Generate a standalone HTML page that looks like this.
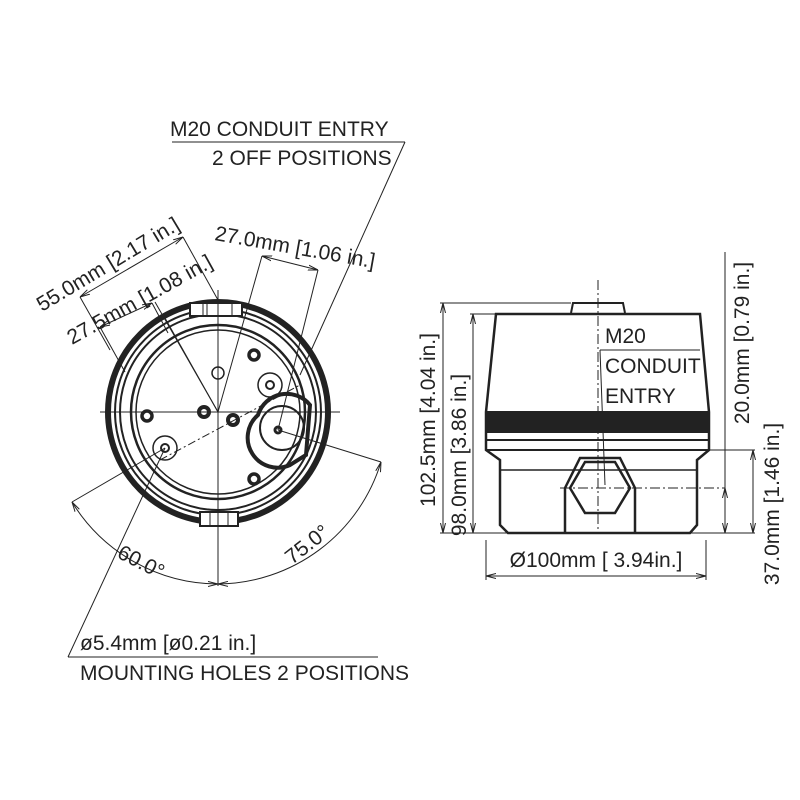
<!DOCTYPE html>
<html><head><style>body{margin:0;background:#fff}svg{display:block}text{font-family:"Liberation Sans",sans-serif;fill:#222}</style></head><body>
<svg width="800" height="800" viewBox="0 0 800 800" xmlns="http://www.w3.org/2000/svg">
<defs><marker id="a" markerWidth="10" markerHeight="6" refX="10" refY="3" orient="auto-start-reverse" markerUnits="userSpaceOnUse"><path d="M0,0.5 L10,3 L0,5.5" fill="none" stroke="#222" stroke-width="1"/></marker></defs>
<g stroke="#222" fill="none" stroke-width="1">
<line x1="172" y1="142" x2="405" y2="142"/>
<line x1="405" y1="142" x2="300" y2="375"/>
<circle cx="218" cy="412" r="110" stroke-width="6"/>
<circle cx="218" cy="412" r="103" stroke-width="2"/>
<circle cx="218" cy="412" r="98" stroke-width="2"/>
<circle cx="218" cy="412" r="87" stroke-width="2.5"/>
<circle cx="218" cy="412" r="82" stroke-width="1.5"/>
<rect x="190" y="303" width="52" height="13" fill="#fff" stroke-width="2"/>
<line x1="203" y1="303" x2="203" y2="316"/><line x1="207" y1="303" x2="207" y2="316"/><line x1="232" y1="303" x2="232" y2="316"/>
<rect x="200" y="512" width="38" height="14" fill="#fff" stroke-width="2"/>
<line x1="210" y1="512" x2="210" y2="526"/><line x1="218" y1="512" x2="218" y2="526"/><line x1="228" y1="512" x2="228" y2="526"/>
<circle cx="218" cy="373" r="6" stroke-width="1.5"/>
<circle cx="204" cy="412" r="5" stroke-width="4"/>
<circle cx="233" cy="420" r="5" stroke-width="4"/>
<circle cx="147" cy="416" r="5" stroke-width="3.5"/>
<circle cx="254" cy="355" r="5" stroke-width="3.5"/>
<circle cx="254" cy="479" r="5" stroke-width="3.5"/>
<circle cx="270" cy="385" r="12" stroke-width="1.5"/><circle cx="270" cy="385" r="4" stroke-width="2"/>
<circle cx="165" cy="448" r="12" stroke-width="1.5"/><circle cx="165" cy="448" r="4" stroke-width="2"/>
<path d="M258,415 A30,30 0 0 1 310,405 L306,455 L290,465 A30,30 0 0 1 258,415Z" stroke-width="4"/>
<circle cx="282" cy="428" r="22" stroke-width="2"/>
<circle cx="278" cy="430" r="3" stroke-width="3"/>
<line x1="100" y1="412" x2="340" y2="412"/>
<line x1="218" y1="290" x2="218" y2="586"/>
<line x1="160" y1="460" x2="300" y2="385" stroke-dasharray="8,3,2,3"/>
<line x1="218" y1="412" x2="155" y2="302"/>
<line x1="218" y1="412" x2="165" y2="318"/>
<line x1="218" y1="412" x2="262" y2="256"/>
<line x1="278" y1="430" x2="318" y2="270"/>
<line x1="183" y1="237" x2="218" y2="300"/>
<line x1="80" y1="297" x2="110" y2="350"/>
<line x1="100" y1="327" x2="125" y2="372"/>
<line x1="152" y1="303" x2="168" y2="333"/>
<line x1="80" y1="297" x2="183" y2="237" marker-start="url(#a)" marker-end="url(#a)"/>
<line x1="100" y1="327" x2="152" y2="303" marker-start="url(#a)" marker-end="url(#a)"/>
<line x1="262" y1="256" x2="318" y2="270" marker-start="url(#a)" marker-end="url(#a)"/>
<line x1="165" y1="448" x2="72" y2="502"/>
<line x1="278" y1="430" x2="381" y2="462"/>
<path d="M72,502 A172,172 0 0 0 218,584" marker-start="url(#a)" marker-end="url(#a)"/>
<path d="M381,462 A172,172 0 0 1 218,584" marker-start="url(#a)" marker-end="url(#a)"/>
<line x1="68" y1="657" x2="378" y2="657"/>
<line x1="68" y1="657" x2="165" y2="448"/>
<path d="M571,313 L573,303 L623,303 L625,313" stroke-width="2"/>
<path d="M496,314 L700,314 L709,412 L709,450 L697,460 L697,525 L690,533 L508,533 L500,525 L500,460 L486,450 L486,412 Z" stroke-width="2.5"/>
<rect x="486" y="411" width="224" height="22" fill="#222" stroke="none"/>
<line x1="486" y1="440" x2="709" y2="440" stroke-width="2"/>
<line x1="486" y1="450" x2="709" y2="450" stroke-width="2"/>
<line x1="500" y1="470" x2="697" y2="470" stroke-width="1.5"/>
<path d="M565,532 L565,488 L580,458 L620,458 L635,488 L635,532" stroke-width="2.5"/>
<path d="M570,488 L585,462 L615,462 L630,488 L615,513 L585,513 Z" stroke-width="2.5"/>
<line x1="598" y1="280" x2="598" y2="530" stroke-dasharray="10,3,2,3"/>
<line x1="560" y1="488" x2="725" y2="488" stroke-dasharray="10,3,2,3"/>
<line x1="600" y1="350" x2="605" y2="485"/>
<line x1="600" y1="350" x2="700" y2="350"/>
<line x1="440" y1="303" x2="571" y2="303"/>
<line x1="470" y1="314" x2="496" y2="314"/>
<line x1="440" y1="533" x2="755" y2="533"/>
<line x1="443" y1="303" x2="443" y2="533" marker-start="url(#a)" marker-end="url(#a)"/>
<line x1="473" y1="314" x2="473" y2="533" marker-start="url(#a)" marker-end="url(#a)"/>
<line x1="486" y1="540" x2="486" y2="580"/><line x1="706" y1="540" x2="706" y2="580"/>
<line x1="486" y1="576" x2="706" y2="576" marker-start="url(#a)" marker-end="url(#a)"/>
<line x1="725" y1="252" x2="725" y2="533"/>
<line x1="709" y1="450" x2="755" y2="450"/>
<line x1="725" y1="488" x2="725" y2="533" marker-start="url(#a)" marker-end="url(#a)"/>
<line x1="753" y1="450" x2="753" y2="533" marker-start="url(#a)" marker-end="url(#a)"/>
</g>
<g font-size="21">
<text x="170" y="136">M20 CONDUIT ENTRY</text>
<text x="212" y="165">2 OFF POSITIONS</text>
<text transform="translate(42,312) rotate(-31)">55.0mm [2.17 in.]</text>
<text transform="translate(72,345) rotate(-29)">27.5mm [1.08 in.]</text>
<text transform="translate(214,240) rotate(10)">27.0mm [1.06 in.]</text>
<text transform="translate(116,557) rotate(27)">60.0°</text>
<text transform="translate(292,565) rotate(-38)">75.0°</text>
<text x="80" y="650">ø5.4mm [ø0.21 in.]</text>
<text x="80" y="680">MOUNTING HOLES 2 POSITIONS</text>
<text x="605" y="343">M20</text>
<text x="605" y="373">CONDUIT</text>
<text x="605" y="403">ENTRY</text>
<text x="596" y="567" text-anchor="middle">Ø100mm [ 3.94in.]</text>
<text transform="translate(435,420) rotate(-90)" text-anchor="middle">102.5mm [4.04 in.]</text>
<text transform="translate(466,455) rotate(-90)" text-anchor="middle">98.0mm [3.86 in.]</text>
<text transform="translate(749,343) rotate(-90)" text-anchor="middle">20.0mm [0.79 in.]</text>
<text transform="translate(779,504) rotate(-90)" text-anchor="middle">37.0mm [1.46 in.]</text>
</g>
</svg>
</body></html>
